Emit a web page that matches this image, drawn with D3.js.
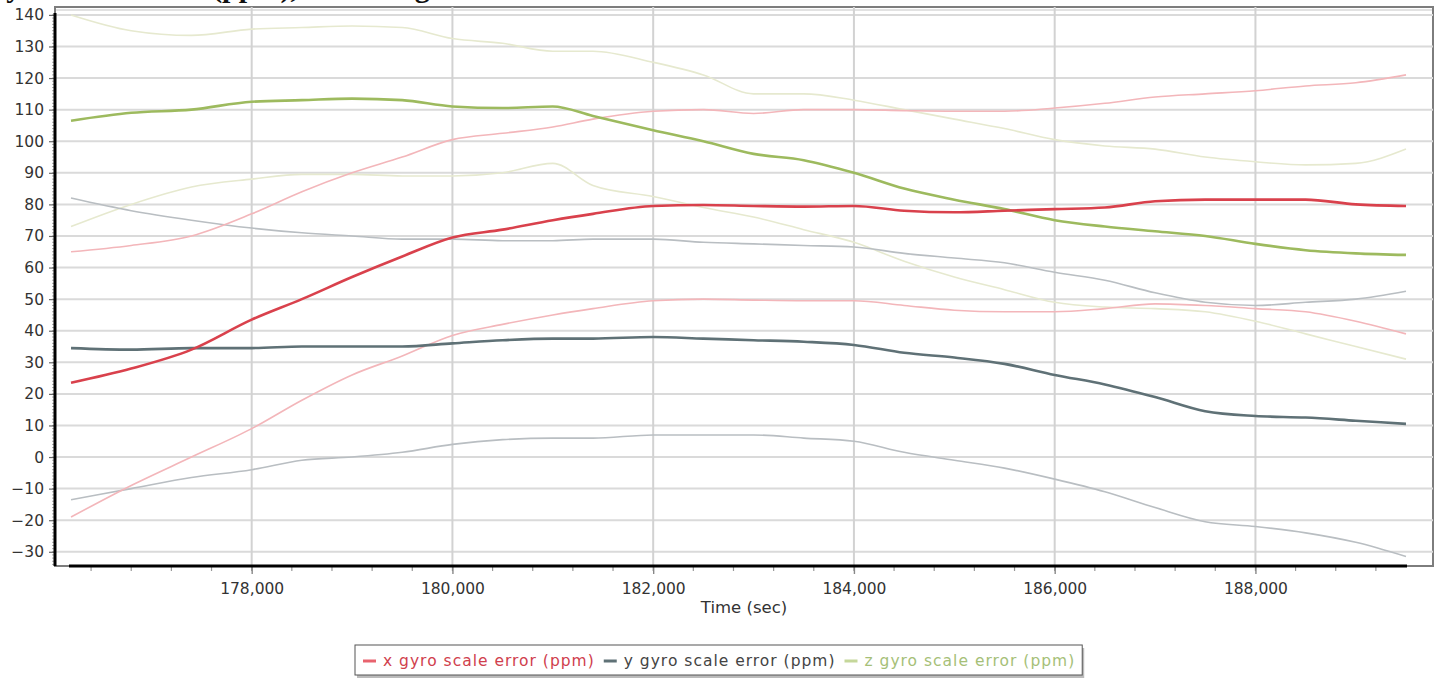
<!DOCTYPE html>
<html>
<head>
<meta charset="utf-8">
<script src="https://cdn.jsdelivr.net/npm/d3@7"></script>
<style>
  html, body { margin: 0; padding: 0; background: #fff; }
  svg { display: block; }
  text { font-family: "DejaVu Sans", Verdana, sans-serif; }
</style>
</head>
<body>
<svg id="chart" width="1442" height="687"></svg>
<script>
// sample times (sec) and the three scale-error series, each with its upper / lower envelope
const TIME = [176200, 176800, 177400, 178000, 178500, 179000, 179500, 180000, 180500, 181000,
  181400, 182000, 182500, 183000, 183500, 184000, 184500, 185000, 185500, 186000,
  186500, 187000, 187500, 188000, 188500, 189000, 189500];

const X_EST = [23.5, 28, 34, 43.5, 50, 57, 63.5, 69.5, 72, 75, 77, 79.5, 79.8, 79.5, 79.3, 79.5,
  78, 77.5, 78, 78.5, 79, 81, 81.5, 81.5, 81.5, 80, 79.5];
const X_HI = [65, 67, 70, 77, 84, 90, 95, 100.5, 102.5, 104.5, 107, 109.5, 110, 108.8, 110, 110,
  109.7, 109.5, 109.5, 110.5, 112, 114, 115, 116, 117.5, 118.5, 121];
const X_LO = [-19, -9, 0, 9, 18, 26, 32, 38.5, 42, 45, 47, 49.5, 50, 49.7, 49.5, 49.5,
  48, 46.5, 46, 46, 47, 48.5, 48, 47, 46, 43, 39];

const Y_EST = [34.5, 34, 34.5, 34.5, 35, 35, 35, 36, 37, 37.5, 37.5, 38, 37.5, 37, 36.5, 35.5,
  33, 31.5, 29.5, 26, 23, 19, 14.5, 13, 12.5, 11.5, 10.5];
const Y_HI = [82, 78, 75, 72.5, 71, 70, 69, 69, 68.5, 68.5, 69, 69, 68, 67.5, 67, 66.5,
  64.5, 63, 61.5, 58.5, 56, 52, 49, 48, 49, 50, 52.5];
const Y_LO = [-13.5, -10, -6.5, -4, -1, 0, 1.5, 4, 5.5, 6, 6, 7, 7, 7, 6, 5,
  1.5, -1, -3.5, -7, -11, -16, -20.5, -22, -24, -27, -31.5];

const Z_EST = [106.5, 109, 110, 112.5, 113, 113.5, 113, 111, 110.5, 111, 108, 103.5, 100, 96, 94, 90,
  85, 81.5, 78.5, 75, 73, 71.5, 70, 67.5, 65.5, 64.5, 64];
const Z_HI = [140, 135, 133.5, 135.5, 136, 136.5, 136, 132.5, 131, 128.5, 128.5, 125, 121, 115, 115, 113,
  110, 107, 104, 100.5, 98.5, 97.5, 95, 93.5, 92.5, 93, 97.5];
const Z_LO = [73, 80, 85.5, 88, 89.5, 89.5, 89, 89, 90, 93, 86, 82.5, 79, 76, 72, 68,
  62, 57, 53, 49, 47.5, 47, 46, 43, 39, 35, 31];

const X_TICKS = [178000, 180000, 182000, 184000, 186000, 188000];
const Y_TICKS = [-30, -20, -10, 0, 10, 20, 30, 40, 50, 60, 70, 80, 90, 100, 110, 120, 130, 140];
const LEGEND = ["x gyro scale error (ppm)", "y gyro scale error (ppm)", "z gyro scale error (ppm)"];
const TITLE = "Gyro Scale Error (ppm), with 1-sigma Bounds";

const svg = d3.select("#chart");
const frame = { left: 55, right: 1433, top: 7, bottom: 566 };

const x = d3.scaleLinear().domain([176180, 189510]).range([69, 1407]);
const y = d3.scaleLinear().domain([-34.5, 140.6]).range([566, 13]);

// title, mostly cut off above the picture (as in the source)
svg.append("text")
  .attr("x", -17).attr("y", -3)
  .attr("font-weight", "bold").attr("font-size", 30)
  .attr("fill", "#111")
  .style("font-family", "'Liberation Serif', serif")
  .text(TITLE);

// frame with a soft shadow
svg.append("rect")
  .attr("x", frame.left).attr("y", frame.top + 3)
  .attr("width", frame.right - frame.left).attr("height", frame.bottom - frame.top - 3)
  .attr("fill", "none").attr("stroke", "#e2e2e2").attr("stroke-width", 2);
svg.append("rect")
  .attr("x", frame.left).attr("y", frame.top)
  .attr("width", frame.right - frame.left).attr("height", frame.bottom - frame.top)
  .attr("fill", "none").attr("stroke", "#7d7d7d").attr("stroke-width", 2);

// grid
svg.append("g").selectAll("line")
  .data(Y_TICKS).join("line")
  .attr("x1", frame.left).attr("x2", frame.right)
  .attr("y1", d => y(d)).attr("y2", d => y(d))
  .attr("stroke", "#dadada").attr("stroke-width", 2);
svg.append("g").selectAll("line")
  .data(X_TICKS).join("line")
  .attr("x1", d => x(d)).attr("x2", d => x(d))
  .attr("y1", frame.top).attr("y2", frame.bottom)
  .attr("stroke", "#d2d2d2").attr("stroke-width", 2);

// series: envelopes first, estimates on top
const line = d3.line().curve(d3.curveMonotoneX).x(d => x(d[0])).y(d => y(d[1]));
const pair = vals => TIME.map((t, i) => [t, vals[i]]);

const SERIES = [
  { vals: Z_HI, color: "#e6e9cf", w: 1.6 },
  { vals: Z_LO, color: "#e6e9cf", w: 1.6 },
  { vals: Y_HI, color: "#b9bec2", w: 1.6 },
  { vals: Y_LO, color: "#b9bec2", w: 1.6 },
  { vals: X_HI, color: "#f3b6ba", w: 1.6 },
  { vals: X_LO, color: "#f3b6ba", w: 1.6 },
  { vals: Z_EST, color: "#9dba5e", w: 2.6 },
  { vals: Y_EST, color: "#5f7176", w: 2.6 },
  { vals: X_EST, color: "#d9414c", w: 2.6 }
];
svg.append("g").selectAll("path")
  .data(SERIES).join("path")
  .attr("d", d => line(pair(d.vals)))
  .attr("fill", "none")
  .attr("stroke", d => d.color)
  .attr("stroke-width", d => d.w)
  .attr("stroke-linejoin", "round");

// y axis
const yMinor = d3.range(-34, 141, 1);
svg.append("g").selectAll("line")
  .data(yMinor).join("line")
  .attr("x1", frame.left - 3).attr("x2", frame.left)
  .attr("y1", d => y(d)).attr("y2", d => y(d))
  .attr("stroke", "#aaa").attr("stroke-width", 1);
const yAxis = svg.append("g")
  .attr("transform", `translate(${frame.left},0)`)
  .call(d3.axisLeft(y).tickValues(Y_TICKS).tickSize(6).tickPadding(5));
yAxis.select(".domain").remove();
yAxis.selectAll(".tick line").attr("stroke", "#666").attr("stroke-width", 1.2);
yAxis.selectAll(".tick text")
  .attr("font-family", "DejaVu Sans").attr("font-size", 15.5).attr("fill", "#333");
svg.append("line")
  .attr("x1", frame.left).attr("x2", frame.left)
  .attr("y1", 13).attr("y2", frame.bottom)
  .attr("stroke", "#000").attr("stroke-width", 3);

// x axis
const xMinor = d3.range(176400, 189500, 400);
svg.append("g").selectAll("line")
  .data(xMinor).join("line")
  .attr("x1", d => x(d)).attr("x2", d => x(d))
  .attr("y1", frame.bottom).attr("y2", frame.bottom + 5)
  .attr("stroke", "#999").attr("stroke-width", 1.2);
const xAxis = svg.append("g")
  .attr("transform", `translate(0,${frame.bottom})`)
  .call(d3.axisBottom(x).tickValues(X_TICKS).tickSize(8).tickPadding(9)
    .tickFormat(d3.format(",")));
xAxis.select(".domain").remove();
xAxis.selectAll(".tick line").attr("stroke", "#888").attr("stroke-width", 1.4);
xAxis.selectAll(".tick text")
  .attr("font-family", "DejaVu Sans").attr("font-size", 15.5).attr("fill", "#333");
svg.append("line")
  .attr("x1", x.range()[0]).attr("x2", x.range()[1])
  .attr("y1", frame.bottom).attr("y2", frame.bottom)
  .attr("stroke", "#000").attr("stroke-width", 3);

svg.append("text")
  .attr("x", (frame.left + frame.right) / 2).attr("y", 613)
  .attr("text-anchor", "middle").attr("font-size", 16.5).attr("fill", "#333")
  .text("Time (sec)");

// legend
const LEG_COLORS = [
  { swatch: "#e8636e", text: "#d0404d" },
  { swatch: "#5f7176", text: "#444" },
  { swatch: "#c5d79a", text: "#a6bf78" }
];
const leg = svg.append("g");
let cx = 363;
LEGEND.forEach((label, i) => {
  leg.append("line")
    .attr("x1", cx).attr("x2", cx + 13).attr("y1", 661).attr("y2", 661)
    .attr("stroke", LEG_COLORS[i].swatch).attr("stroke-width", 3);
  const t = leg.append("text")
    .attr("x", cx + 20).attr("y", 666)
    .attr("font-size", 15.5).attr("letter-spacing", 1)
    .attr("fill", LEG_COLORS[i].text)
    .text(label);
  cx += 20 + t.node().getComputedTextLength() + 9;
});
const legRight = cx - 2;
leg.insert("rect", ":first-child")
  .attr("x", 357).attr("y", 648).attr("width", legRight - 355).attr("height", 30)
  .attr("fill", "#bbb");
leg.insert("rect", ":nth-child(2)")
  .attr("x", 355).attr("y", 645).attr("width", legRight - 355).attr("height", 30)
  .attr("fill", "#fff").attr("stroke", "#555").attr("stroke-width", 1);
</script>
</body>
</html>
